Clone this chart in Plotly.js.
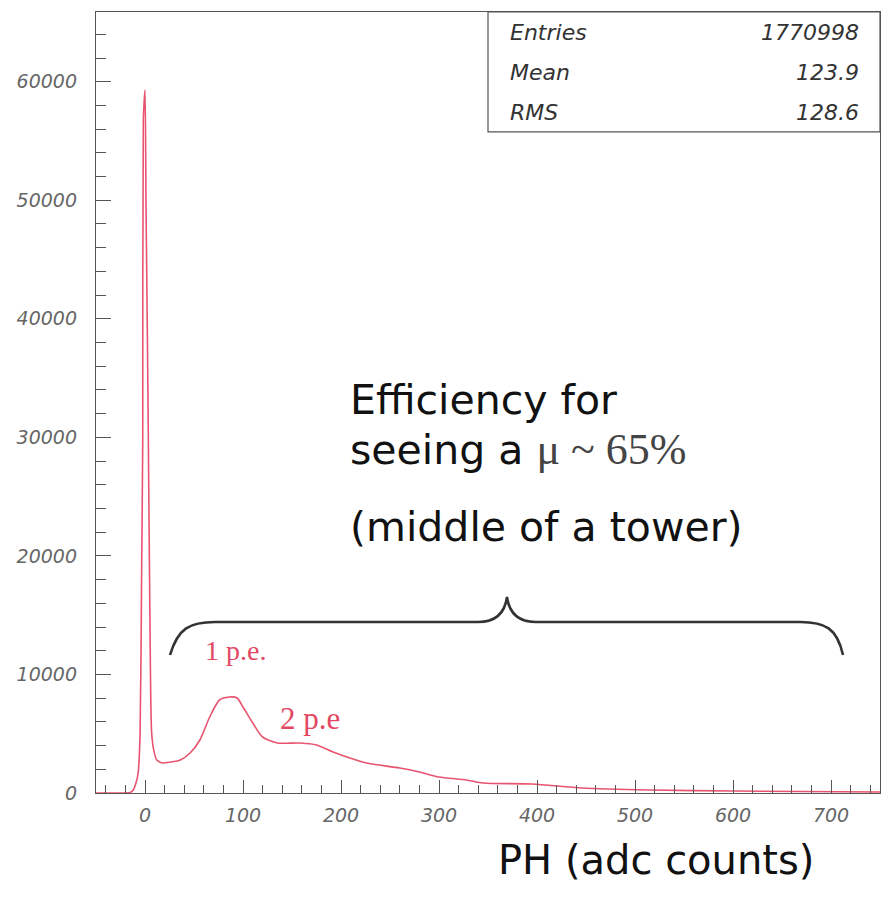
<!DOCTYPE html>
<html>
<head>
<meta charset="utf-8">
<script src="https://cdn.plot.ly/plotly-3.0.1.min.js"></script>
<style>
  html, body { margin: 0; padding: 0; background: #ffffff; }
  #chart { width: 888px; height: 899px; }
</style>
</head>
<body>
<div id="chart"></div>
<script>
// Pulse-height spectrum: pedestal spike at 0, single and double photo-electron bumps
const adc = [-50, -20, -15, -12, -9, -7, -5, -3.5, -2.3, -1.7, 0, 1, 2.5, 3.4, 5, 6.8, 9, 12, 15, 18,
             25, 36, 46, 56, 66, 76, 86, 94, 100, 110, 120, 135, 158, 175, 192, 209, 226,
             260, 280, 300, 328, 345, 395, 446, 515, 600, 750];
const counts = [0, 0, 50, 250, 900, 1700, 5060, 18000, 30000, 56770, 59300, 50000, 38000, 30000, 15000, 5060, 3600, 2780, 2615, 2530,
                2600, 2784, 3374, 4470, 6410, 7845, 8098, 8014, 7254, 5905, 4724, 4218, 4218, 4049, 3459, 2952, 2530,
                2109, 1771, 1350, 1097, 844, 759, 422, 253, 169, 84];

const xTickVals = [0, 100, 200, 300, 400, 500, 600, 700];
const yTickVals = [0, 10000, 20000, 30000, 40000, 50000, 60000];

const statNames = ['Entries', 'Mean', 'RMS'];
const statValues = ['1770998', '123.9', '128.6'];

const xRange = [-50, 750];
const yRange = [0, 65880];

const axisGrey = '#555555';
const labelFont = { family: 'DejaVu Sans', size: 19, color: '#666666', style: 'italic' };
const curveRed = 'rgb(232,84,112)';
const noteRed = 'rgb(226,72,100)';

const trace = {
  x: adc,
  y: counts,
  type: 'scatter',
  mode: 'lines',
  line: { color: curveRed, width: 1.6, shape: 'spline', smoothing: 0.7 },
  hoverinfo: 'skip'
};

// statistics box rows
const statTop = 0.974;
const statStep = 0.0512;
const annotations = [];
statNames.forEach((name, i) => {
  annotations.push({
    xref: 'paper', yref: 'paper', x: 0.526, y: statTop - i * statStep,
    xanchor: 'left', yanchor: 'middle', showarrow: false, text: name,
    font: { family: 'DejaVu Sans', size: 22, color: '#333333', style: 'italic' }
  });
  annotations.push({
    xref: 'paper', yref: 'paper', x: 0.976, y: statTop - i * statStep,
    xanchor: 'right', yanchor: 'middle', showarrow: false, text: statValues[i],
    font: { family: 'DejaVu Sans', size: 22, color: '#333333', style: 'italic' }
  });
});

const bigFont = { family: 'DejaVu Sans', size: 41, color: '#111111' };
annotations.push(
  { xref: 'paper', yref: 'paper', x: 0.322, y: 0.503, xanchor: 'left', yanchor: 'middle', showarrow: false,
    text: 'Efficiency for', font: bigFont },
  { xref: 'paper', yref: 'paper', x: 0.322, y: 0.440, xanchor: 'left', yanchor: 'middle', showarrow: false,
    text: 'seeing a <span style="font-family:Liberation Serif;font-size:44px;fill:#444444">μ ~ 65%</span>', font: bigFont },
  { xref: 'paper', yref: 'paper', x: 0.322, y: 0.340, xanchor: 'left', yanchor: 'middle', showarrow: false,
    text: '(middle of a tower)', font: bigFont },
  { xref: 'paper', yref: 'paper', x: 0.136, y: 0.182, xanchor: 'left', yanchor: 'middle', showarrow: false,
    text: '1 p.e.', font: { family: 'Liberation Serif', size: 28, color: noteRed } },
  { xref: 'paper', yref: 'paper', x: 0.232, y: 0.096, xanchor: 'left', yanchor: 'middle', showarrow: false,
    text: '2 p.e', font: { family: 'Liberation Serif', size: 31, color: noteRed } },
  { xref: 'paper', yref: 'paper', x: 0.918, y: -0.086, xanchor: 'right', yanchor: 'middle', showarrow: false,
    text: 'PH (adc counts)', font: { family: 'DejaVu Sans', size: 40, color: '#111111' } }
);

// curly brace spanning the photo-electron signal region (paper coordinates)
function px(xp) { return (xp - 96) / 784; }
function py(yp) { return (793 - yp) / 781; }
const bracePath =
  'M ' + px(170) + ',' + py(655) +
  ' C ' + px(178) + ',' + py(628) + ' ' + px(190) + ',' + py(622) + ' ' + px(215) + ',' + py(622) +
  ' L ' + px(478) + ',' + py(622) +
  ' C ' + px(497) + ',' + py(622) + ' ' + px(505) + ',' + py(612) + ' ' + px(507) + ',' + py(597) +
  ' C ' + px(509) + ',' + py(612) + ' ' + px(517) + ',' + py(622) + ' ' + px(536) + ',' + py(622) +
  ' L ' + px(800) + ',' + py(622) +
  ' C ' + px(825) + ',' + py(622) + ' ' + px(837) + ',' + py(628) + ' ' + px(843) + ',' + py(655);

const shapes = [
  { type: 'rect', xref: 'paper', yref: 'paper', x0: 0.5, x1: 1, y0: 0.8464, y1: 1,
    line: { color: '#555555', width: 1.2 }, fillcolor: 'rgba(255,255,255,0)' },
  { type: 'path', xref: 'paper', yref: 'paper', path: bracePath,
    line: { color: '#333333', width: 2.6 } }
];

const layout = {
  width: 888,
  height: 899,
  margin: { l: 96, r: 8, t: 12, b: 106 },
  paper_bgcolor: '#ffffff',
  plot_bgcolor: '#ffffff',
  showlegend: false,
  xaxis: {
    range: xRange,
    tickvals: xTickVals,
    ticktext: xTickVals.map(String),
    ticks: 'inside',
    ticklen: 13,
    tickwidth: 1,
    tickcolor: axisGrey,
    minor: { dtick: 20, tick0: 0, ticks: 'inside', ticklen: 8, tickcolor: axisGrey },
    showline: true,
    linecolor: axisGrey,
    linewidth: 1.2,
    mirror: true,
    showgrid: false,
    zeroline: false,
    tickfont: labelFont,
    ticklabelstandoff: 5
  },
  yaxis: {
    range: yRange,
    tickvals: yTickVals,
    ticktext: yTickVals.map(String),
    ticks: 'inside',
    ticklen: 15,
    tickwidth: 1,
    tickcolor: axisGrey,
    minor: { dtick: 2000, tick0: 0, ticks: 'inside', ticklen: 10, tickcolor: axisGrey },
    showline: true,
    linecolor: axisGrey,
    linewidth: 1.2,
    mirror: true,
    showgrid: false,
    zeroline: false,
    tickfont: labelFont,
    ticklabelstandoff: 14
  },
  annotations: annotations,
  shapes: shapes
};

Plotly.newPlot('chart', [trace], layout, { staticPlot: true, displayModeBar: false });
</script>
</body>
</html>
